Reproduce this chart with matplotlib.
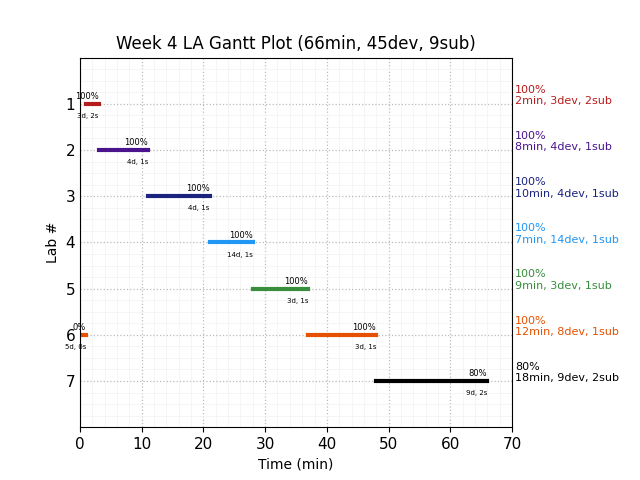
import matplotlib
matplotlib.use('Agg')
import matplotlib.pyplot as plt
from matplotlib.ticker import MultipleLocator

# Данные по лабам
labs = [1, 2, 3, 4, 5, 6, 6, 7]
starts = [1, 3, 11, 21, 28, 0, 37, 48]
ends = [3, 11, 21, 28, 37, 1, 48, 66]
pct = ['100%', '100%', '100%', '100%', '100%', '0%', '100%', '80%']
devsub = ['3d, 2s', '4d, 1s', '4d, 1s', '14d, 1s', '3d, 1s', '5d, 0s', '3d, 1s', '9d, 2s']

lab_ids = [1, 2, 3, 4, 5, 6, 7]
lab_pct = ['100%', '100%', '100%', '100%', '100%', '100%', '80%']
lab_summary = ['2min, 3dev, 2sub', '8min, 4dev, 1sub', '10min, 4dev, 1sub',
               '7min, 14dev, 1sub', '9min, 3dev, 1sub', '12min, 8dev, 1sub',
               '18min, 9dev, 2sub']
colors = ['#b71c1c', '#4a148c', '#1a237e', '#2196f3', '#388e3c', '#e65100', 'black']

fig, ax = plt.subplots(figsize=(6.4, 4.8), dpi=100)
fig.subplots_adjust(left=0.125, right=0.8, top=0.88, bottom=0.11)

for lab, s, e, p, ds in zip(labs, starts, ends, pct, devsub):
    c = colors[lab - 1]
    ax.plot([s, e], [lab, lab], color=c, linewidth=3, solid_capstyle='projecting')
    ax.text(e, lab - 0.06, p, ha='right', va='bottom', fontsize=6)
    ax.text(e, lab + 0.2, ds, ha='right', va='top', fontsize=5)

for lab, p, summ, c in zip(lab_ids, lab_pct, lab_summary, colors):
    ax.text(70.5, lab + 0.05, p + '\n' + summ, color=c, fontsize=8,
            ha='left', va='bottom')

ax.set_xlim(0, 70)
ax.set_ylim(8, 0)
ax.set_yticks(lab_ids)
ax.set_xticks(range(0, 71, 10))
ax.xaxis.set_minor_locator(MultipleLocator(2))
ax.yaxis.set_minor_locator(MultipleLocator(0.25))
ax.tick_params(axis='y', labelsize=11, length=0)
ax.tick_params(axis='x', labelsize=11)
ax.tick_params(which='minor', length=0)
ax.grid(which='major', color='#bbbbbb', linestyle=':', linewidth=0.9)
ax.grid(which='minor', color='#f4f4f4', linestyle='-', linewidth=0.6)
ax.set_axisbelow(True)

ax.set_xlabel('Time (min)')
ax.set_ylabel('Lab #')
ax.set_title('Week 4 LA Gantt Plot (66min, 45dev, 9sub)', fontsize=12)

fig.savefig('out.png', dpi=100)
